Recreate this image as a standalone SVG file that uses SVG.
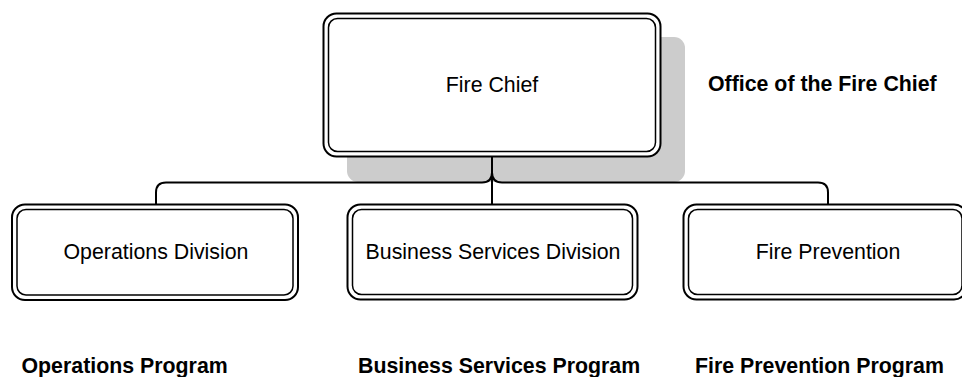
<svg xmlns="http://www.w3.org/2000/svg" width="962" height="377" viewBox="0 0 962 377">
<style>
.outer{fill:#ffffff;stroke:#000000;stroke-width:2}
.inner{fill:none;stroke:#000000;stroke-width:1.5}
.lbl{font-family:"Liberation Sans",Arial,sans-serif;font-size:21.33px;fill:#000000;text-anchor:middle}
.bold{font-family:"Liberation Sans",Arial,sans-serif;font-size:21.33px;font-weight:bold;fill:#000000}
.conn{fill:none;stroke:#000000;stroke-width:2}
</style>
<rect width="962" height="377" fill="#ffffff"/>
<g id="shadow">
<rect x="347" y="37" width="338" height="145" rx="11" fill="#cccccc"/>
</g>
<g id="connectors">
<path class="conn" d="M492,157 V204"/>
<path class="conn" d="M156,204 V192.5 Q156,182.5 166,182.5 H482 Q492,182.5 492,172.5"/>
<path class="conn" d="M828,204 V192.5 Q828,182.5 818,182.5 H502 Q492,182.5 492,172.5"/>
</g>
<g id="fire-chief">
<rect class="outer" x="323.5" y="13.5" width="337" height="143" rx="13"/>
<rect class="inner" x="328.5" y="18.5" width="327" height="133" rx="9"/>
<text class="lbl" x="492" y="92">Fire Chief</text>
</g>
<g id="operations-division">
<rect class="outer" x="12" y="204.5" width="286" height="95.5" rx="13"/>
<rect class="inner" x="17" y="209.5" width="276" height="85.5" rx="9"/>
<text class="lbl" x="156" y="259">Operations Division</text>
</g>
<g id="business-services-division">
<rect class="outer" x="347.5" y="204.5" width="290" height="95" rx="13"/>
<rect class="inner" x="352.5" y="209.5" width="280" height="85" rx="9"/>
<text class="lbl" x="493" y="259">Business Services Division</text>
</g>
<g id="fire-prevention">
<rect class="outer" x="683.5" y="204.5" width="283.5" height="95" rx="13"/>
<rect class="inner" x="688.5" y="209.5" width="273.5" height="85" rx="9"/>
<text class="lbl" x="828" y="259">Fire Prevention</text>
</g>
<g id="labels">
<text class="bold" x="708" y="91">Office of the Fire Chief</text>
<text class="bold" x="21.5" y="373">Operations Program</text>
<text class="bold" x="358" y="373">Business Services Program</text>
<text class="bold" x="695" y="373">Fire Prevention Program</text>
</g>
</svg>
